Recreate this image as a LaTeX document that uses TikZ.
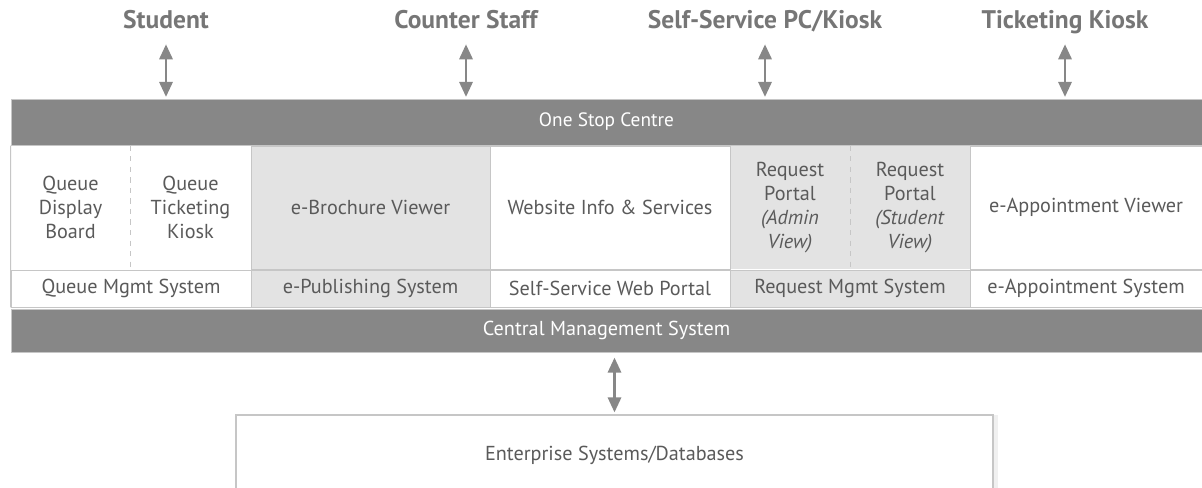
\documentclass[tikz,border=0pt]{standalone}
\usepackage{fontspec}
\setmainfont{PT Sans}
\usetikzlibrary{arrows.meta}
\usetikzlibrary{shadows}
\definecolor{bandgray}{HTML}{878787}
\definecolor{cellgray}{HTML}{E3E3E3}
\definecolor{linegray}{HTML}{C6C6C6}
\definecolor{textgray}{HTML}{5A5A5A}
\definecolor{actorgray}{HTML}{767676}

\begin{document}
\begin{tikzpicture}[x=0.02cm, y=-0.02cm,
    band/.style={fill=bandgray, draw=linegray, text=white, inner sep=0pt, font=\fontsize{11}{13}\selectfont},
    cell/.style={fill=white, draw=linegray, text=textgray, inner sep=0pt, align=center, font=\fontsize{11.5}{13.6}\selectfont},
    shaded/.style={cell, fill=cellgray},
    actor/.style={text=actorgray, inner sep=0pt, text height=10pt, text depth=3pt, font=\bfseries\fontsize{14.5}{16}\selectfont},
    link/.style={draw=bandgray, line width=1.4pt, shorten <=1pt, shorten >=1pt,
      {Triangle[width=7.5pt,length=8.5pt]}-{Triangle[width=7.5pt,length=8.5pt]}},
    divider/.style={draw=linegray, dashed, line width=0.6pt}]
  \useasboundingbox (0,0) rectangle (1202,487);

  % users
  \node[actor] (student) at (166,22) {Student};
  \node[actor] (staff) at (466,22) {Counter Staff};
  \node[actor] (selfpc) at (765,22) {Self-Service PC/Kiosk};
  \node[actor] (ticket) at (1065,22) {Ticketing Kiosk};

  % top band
  \node[band, minimum width=23.82cm, minimum height=0.92cm] (osc) at (606.5,122) {One Stop Centre};

  % front-end row (pairs first, borders come from neighbours)
  \node[cell, draw=none, minimum width=2.38cm, minimum height=2.46cm] (qdb) at (70.5,207.5) {Queue\\Display\\Board};
  \node[cell, draw=none, minimum width=2.42cm, minimum height=2.46cm] (qtk) at (190.5,207.5) {Queue\\Ticketing\\Kiosk};
  \node[shaded, draw=none, minimum width=2.4cm, minimum height=2.46cm] (rpa) at (790,207.5) {Request\\Portal\\\textit{(Admin}\\\textit{View)}};
  \node[shaded, draw=none, minimum width=2.4cm, minimum height=2.46cm] (rps) at (910,207.5) {Request\\Portal\\\textit{(Student}\\\textit{View)}};
  \node[shaded, minimum width=4.78cm, minimum height=2.46cm] (ebv) at (370.5,207.5) {e-Brochure Viewer};
  \node[cell, minimum width=4.8cm, minimum height=2.46cm] (web) at (610,207.5) {Website Info \& Services};
  \node[cell, minimum width=4.64cm, minimum height=2.46cm] (eav) at (1086,207.5) {e-Appointment Viewer};
  \draw[divider] (qdb.north east) -- (qdb.south east);
  \draw[divider] (rpa.north east) -- (rpa.south east);

  % systems row
  \node[cell, minimum width=4.8cm, minimum height=0.74cm] (qms) at (131,288.5) {Queue Mgmt System};
  \node[shaded, minimum width=4.78cm, minimum height=0.74cm] (eps) at (370.5,288.5) {e-Publishing System};
  \node[cell, minimum width=4.8cm, minimum height=0.74cm] (swp) at (610,288.5) {Self-Service Web Portal};
  \node[shaded, minimum width=4.8cm, minimum height=0.74cm] (rms) at (850,288.5) {Request Mgmt System};
  \node[cell, minimum width=4.64cm, minimum height=0.74cm] (eas) at (1086,288.5) {e-Appointment System};

  % bottom band
  \node[band, font=\fontsize{11.5}{13}\selectfont, minimum width=23.82cm, minimum height=0.86cm] (cms) at (606.5,330.5) {Central Management System};
  \draw[draw=linegray, line width=0.6pt] (qdb.north west) -- (qms.south west);

  % back end
  \node[cell, line width=1pt, minimum width=15.14cm, minimum height=1.6cm,
    drop shadow={opacity=0.12, shadow xshift=3pt, shadow yshift=0pt}] (ent) at (614.5,455) {Enterprise Systems/Databases};

  \draw[link, shorten <=6pt] (student.south) -- (student.south |- osc.north);
  \draw[link, shorten <=6pt] (staff.south) -- (staff.south |- osc.north);
  \draw[link, shorten <=6pt] (selfpc.south) -- (selfpc.south |- osc.north);
  \draw[link, shorten <=6pt] (ticket.south) -- (ticket.south |- osc.north);
  \draw[link, shorten <=3pt] (cms.south -| ent.north) -- (ent.north);
\end{tikzpicture}
\end{document}
